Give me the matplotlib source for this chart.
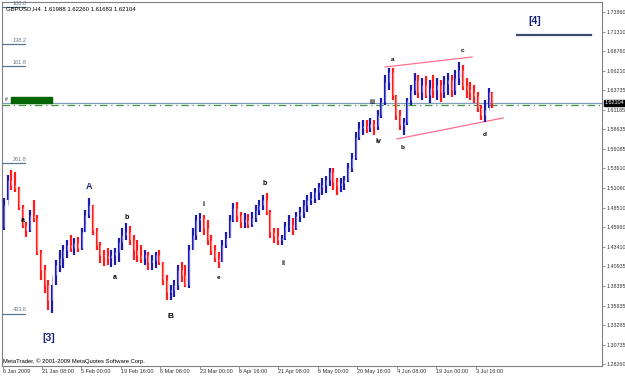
import numpy as np
import matplotlib.pyplot as plt

# daily high / low / close (GBPUSD, Jan - Jul 2009)
highs = [1.4976, 1.5274, 1.5339, 1.5313, 1.5119, 1.4886, 1.4665, 1.4821, 1.4950, 1.4756,
         1.4303, 1.4108, 1.3914, 1.3849, 1.4173, 1.4303, 1.4368, 1.4432, 1.4497, 1.4458,
         1.4471, 1.4588, 1.4821, 1.4976, 1.4886, 1.4588, 1.4406, 1.4303, 1.4329, 1.4303,
         1.4329, 1.4458, 1.4588, 1.4652, 1.4614, 1.4497, 1.4432, 1.4368, 1.4303, 1.4277,
         1.4238, 1.4277, 1.4303, 1.4147, 1.3979, 1.3849, 1.3914, 1.4108, 1.4147, 1.4108,
         1.4368, 1.4588, 1.4756, 1.4782, 1.4756, 1.4691, 1.4497, 1.4368, 1.4277, 1.4432,
         1.4536, 1.4756, 1.4912, 1.4925, 1.4795, 1.4782, 1.4769, 1.4795, 1.4886, 1.4950,
         1.5015, 1.5041, 1.4821, 1.4588, 1.4588, 1.4497, 1.4665, 1.4756, 1.4717, 1.4795,
         1.4860, 1.4950, 1.5015, 1.5054, 1.5106, 1.5171, 1.5235, 1.5261, 1.5365, 1.5365,
         1.5235, 1.5235, 1.5261, 1.5430, 1.5559, 1.5831, 1.5961, 1.5987, 1.5987, 1.6013,
         1.5987, 1.6116, 1.6272, 1.6570, 1.6660, 1.6660, 1.6311, 1.6116, 1.6013, 1.6272,
         1.6440, 1.6595, 1.6570, 1.6531, 1.6557, 1.6505, 1.6570, 1.6531, 1.6505, 1.6557,
         1.6595, 1.6570, 1.6634, 1.6738, 1.6699, 1.6531, 1.6479, 1.6440, 1.6349, 1.6181,
         1.6246, 1.6401, 1.6349]
lows = [1.4562, 1.4950, 1.5080, 1.5054, 1.4821, 1.4588, 1.4471, 1.4536, 1.4665, 1.4238,
        1.3914, 1.3746, 1.3526, 1.3487, 1.3849, 1.4018, 1.4069, 1.4199, 1.4277, 1.4238,
        1.4277, 1.4303, 1.4536, 1.4717, 1.4497, 1.4303, 1.4134, 1.4095, 1.4108, 1.4082,
        1.4108, 1.4147, 1.4303, 1.4432, 1.4368, 1.4173, 1.4147, 1.4134, 1.4108, 1.4044,
        1.4044, 1.4069, 1.4108, 1.3849, 1.3655, 1.3655, 1.3694, 1.3785, 1.3888, 1.3823,
        1.3810, 1.4303, 1.4432, 1.4536, 1.4497, 1.4368, 1.4238, 1.4147, 1.4069, 1.4147,
        1.4329, 1.4458, 1.4665, 1.4665, 1.4588, 1.4588, 1.4588, 1.4601, 1.4665, 1.4756,
        1.4821, 1.4756, 1.4458, 1.4393, 1.4368, 1.4368, 1.4432, 1.4536, 1.4497, 1.4562,
        1.4665, 1.4717, 1.4795, 1.4886, 1.4912, 1.4950, 1.5015, 1.5041, 1.5132, 1.5080,
        1.5015, 1.5054, 1.5080, 1.5184, 1.5313, 1.5468, 1.5728, 1.5792, 1.5818, 1.5831,
        1.5792, 1.5857, 1.6013, 1.6181, 1.6375, 1.6246, 1.5987, 1.5857, 1.5792, 1.5922,
        1.6181, 1.6311, 1.6272, 1.6246, 1.6272, 1.6207, 1.6272, 1.6246, 1.6220, 1.6272,
        1.6311, 1.6285, 1.6311, 1.6440, 1.6375, 1.6272, 1.6246, 1.6207, 1.6090, 1.5987,
        1.5961, 1.6142, 1.6142]
closes = [1.4886, 1.5209, 1.5145, 1.5106, 1.4860, 1.4627, 1.4562, 1.4756, 1.4717, 1.4277,
          1.4044, 1.3849, 1.3655, 1.3979, 1.4108, 1.4199, 1.4303, 1.4368, 1.4329, 1.4393,
          1.4329, 1.4536, 1.4756, 1.4886, 1.4562, 1.4368, 1.4238, 1.4225, 1.4199, 1.4238,
          1.4277, 1.4406, 1.4497, 1.4536, 1.4432, 1.4303, 1.4238, 1.4199, 1.4238, 1.4147,
          1.4173, 1.4238, 1.4147, 1.3914, 1.3759, 1.3785, 1.3849, 1.4044, 1.3979, 1.3849,
          1.4303, 1.4497, 1.4691, 1.4717, 1.4588, 1.4432, 1.4303, 1.4199, 1.4147, 1.4368,
          1.4458, 1.4691, 1.4847, 1.4756, 1.4665, 1.4691, 1.4640, 1.4717, 1.4821, 1.4886,
          1.4950, 1.4795, 1.4536, 1.4484, 1.4432, 1.4458, 1.4614, 1.4627, 1.4588, 1.4743,
          1.4795, 1.4886, 1.4950, 1.4976, 1.5054, 1.5119, 1.5145, 1.5209, 1.5313, 1.5184,
          1.5145, 1.5171, 1.5209, 1.5365, 1.5494, 1.5766, 1.5883, 1.5909, 1.5883, 1.5935,
          1.5909, 1.6051, 1.6220, 1.6479, 1.6608, 1.6311, 1.6051, 1.5922, 1.5961, 1.6246,
          1.6375, 1.6505, 1.6349, 1.6440, 1.6311, 1.6401, 1.6375, 1.6440, 1.6349, 1.6453,
          1.6505, 1.6375, 1.6531, 1.6634, 1.6427, 1.6375, 1.6349, 1.6298, 1.6142, 1.6051,
          1.6116, 1.6349, 1.6210]
first_open = 1.4600

date_labels = ["6 Jan 2009", "21 Jan 08:00", "5 Feb 00:00", "19 Feb 16:00", "6 Mar 08:00",
               "23 Mar 00:00", "6 Apr 16:00", "21 Apr 08:00", "6 May 00:00", "20 May 16:00",
               "4 Jun 08:00", "19 Jun 00:00", "3 Jul 16:00"]
price_ticks = [1.73860, 1.71310, 1.68760, 1.66210, 1.63735, 1.61185, 1.58635, 1.56085,
               1.53610, 1.51060, 1.48510, 1.45960, 1.43410, 1.40935, 1.38385, 1.35835,
               1.33285, 1.30735, 1.28260]
last_price = 1.62104
fib_levels = [1.7451, 1.6971, 1.6686, 1.5430, 1.3480]
fib_names = ["100.0", "138.2", "161.8", "261.8", "423.6"]
target_4 = 1.7088
green_line = 1.6181
upper_chan = [(103.0, 1.6673), (126.5, 1.6803)]
lower_chan = [(106.2, 1.5741), (134.9, 1.6013)]

opens = [first_open] + closes[:-1]
n = len(closes)
x = np.arange(n)

fig = plt.figure(figsize=(6.25, 3.78), dpi=100)
ax = fig.add_axes([2 / 625, 1 - 366 / 378, 600 / 625, 364 / 378])
ax.set_xlim(-0.54, 161.6)
ax.set_ylim(1.2800, 1.7515)

fnt = "Liberation Sans"
grey = "#808080"

# bars
up = "#1c1ca8"
cols = [up if c >= o else "#ff1c1c" for o, c in zip(opens, closes)]
ax.vlines(x, lows, highs, colors=cols, linewidth=1.6, zorder=3)
ax.vlines(x, np.minimum(opens, closes), np.maximum(opens, closes),
          colors=["#8c8cff" if c == up else "#ff9a9a" for c in cols],
          linewidth=0.5, zorder=4)

# horizontal lines
ax.axhline(last_price, color="#7f9cbc", linewidth=0.9, zorder=2)
ax.axhline(green_line, color="#3c9a3c", linewidth=0.9, linestyle=(0, (6, 3, 1, 3)), zorder=2)

# fibonacci ticks on the left
for lvl, name in zip(fib_levels, fib_names):
    ax.plot([-0.54, 5.8], [lvl, lvl], color="#5a7890", linewidth=0.9, zorder=2)
    ax.text(2.4, lvl + 0.0015, name, fontsize=4.0, color="#6a7a8a", family=fnt, va="bottom")

# green block
ax.add_patch(plt.Rectangle((1.9, 1.6207), 11.1, 0.0078, color="#006400", zorder=5))
ax.text(0.2, 1.6246, "#", fontsize=3.6, color="black", va="center", family=fnt)

# target [4]
ax.plot([138.6, 158.6], [target_4, target_4], color="#3c4c6c", linewidth=1.6)
ax.text(143.5, 1.7263, "[4]", fontsize=7.5, color="#1a237e", fontweight="bold",
        ha="center", va="center", family=fnt)

# channel lines
for seg in (upper_chan, lower_chan):
    ax.plot([seg[0][0], seg[1][0]], [seg[0][1], seg[1][1]], color="#ff6f8f", linewidth=0.9)

# wave labels
waves = [("[3]", 12.2, 1.3163, "#1a237e", 7.5), ("A", 23.0, 1.5119, "#1a237e", 6.5),
         ("B", 44.9, 1.3435, "black", 6.0), ("a", 5.1, 1.4691, "black", 5.0),
         ("a", 30.0, 1.3940, "black", 5.0), ("b", 33.2, 1.4730, "black", 5.0),
         ("i", 53.8, 1.4898, "black", 5.0), ("e", 58.1, 1.3940, "black", 4.6),
         ("b", 70.5, 1.5158, "black", 5.0), ("ii", 75.4, 1.4134, "black", 5.0),
         ("iii", 99.5, 1.6207, "black", 5.0), ("iv", 101.3, 1.5702, "black", 5.0),
         ("a", 104.9, 1.6764, "black", 4.6), ("b", 107.8, 1.5624, "black", 4.6),
         ("c", 123.8, 1.6893, "black", 4.6), ("d", 130.0, 1.5805, "black", 4.6)]
for t, wx, wy, c, s in waves:
    ax.text(wx, wy, t, color=c, fontsize=s, fontweight="bold", ha="center", va="center",
            family=fnt, zorder=6)

# header and copyright
ax.text(0.006, 0.988, "GBPUSD,H4  1.61988 1.62260 1.61683 1.62104", transform=ax.transAxes,
        fontsize=4.3, family=fnt, va="top", ha="left")
ax.text(0.002, 0.006, "MetaTrader, \u00a9 2001-2009 MetaQuotes Software Corp.",
        transform=ax.transAxes, fontsize=4.2, family=fnt, va="bottom", ha="left")

# axes styling
for sp in ax.spines.values():
    sp.set_color(grey)
    sp.set_linewidth(0.8)
ax.yaxis.tick_right()
ax.set_yticks(price_ticks)
ax.set_yticklabels([f"{p:.5f}" for p in price_ticks])
ax.tick_params(axis="y", direction="out", length=2, width=0.6, color=grey, pad=1,
               labelsize=3.9, labelcolor="#333333")
xt = [-0.5 + 10.667 * k for k in range(len(date_labels))]
xt[0] = -0.3
ax.set_xticks(xt)
ax.set_xticklabels(date_labels)
ax.tick_params(axis="x", direction="out", length=2, width=0.6, color=grey, pad=0.5,
               labelsize=4.0, labelcolor="#333333")
for lab in ax.get_xticklabels():
    lab.set_horizontalalignment("left")
    lab.set_family(fnt)
for lab in ax.get_yticklabels():
    lab.set_family(fnt)

# current price marker
ax.text(1.004, last_price, f"{last_price:.5f}", transform=ax.get_yaxis_transform(),
        fontsize=3.9, family=fnt, color="white", va="center", ha="left",
        bbox=dict(boxstyle="square,pad=0.1", fc="black", ec="black"), zorder=7)

plt.savefig("out.png", dpi=100)
